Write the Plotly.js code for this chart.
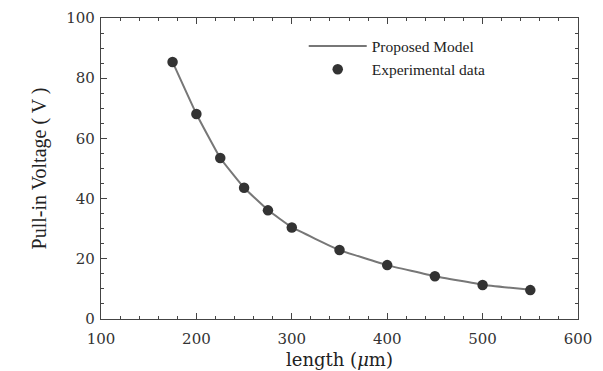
<!DOCTYPE html>
<html>
<head>
<meta charset="utf-8">
<script src="https://cdn.plot.ly/plotly-3.0.1.min.js"></script>
<style>html,body{margin:0;padding:0;background:#fff}#chart{width:603px;height:371px}</style>
</head>
<body>
<div id="chart"></div>
<script>
const lengthUm = [175, 200, 225, 250, 275, 300, 350, 400, 450, 500, 550];
const modelVoltage = [85.4, 68.1, 53.5, 43.6, 36.2, 30.5, 22.9, 17.9, 14.2, 11.4, 9.7];
const expVoltage = [85.4, 68.1, 53.5, 43.6, 36.1, 30.4, 22.9, 17.9, 14.2, 11.3, 9.6];
const xTicks = [100, 200, 300, 400, 500, 600];
const yTicks = [0, 20, 40, 60, 80, 100];

const serif = "Times New Roman, Liberation Serif, serif";
const wideSerif = "DejaVu Serif, serif";
const tickFont = {family: wideSerif, size: 15, color: '#333'};
const axisCommon = {
  showgrid: false, zeroline: false, showline: true, linecolor: '#444', linewidth: 1.2,
  mirror: 'ticks', ticks: 'inside', ticklen: 6, tickcolor: '#444', tickwidth: 1,
  tickfont: tickFont
};

const data = [
  {x: lengthUm, y: modelVoltage, type: 'scatter', mode: 'lines', name: 'Proposed Model',
   line: {color: '#777', width: 2, shape: 'spline', smoothing: 0.3}},
  {x: lengthUm, y: expVoltage, type: 'scatter', mode: 'markers', name: 'Experimental data',
   marker: {color: '#333', size: 10.5}}
];

const layout = {
  width: 603, height: 371,
  margin: {l: 101, r: 25, t: 18, b: 52},
  paper_bgcolor: '#fff', plot_bgcolor: '#fff',
  showlegend: true,
  legend: {x: 0.425, y: 0.962, xanchor: 'left', yanchor: 'top', bgcolor: 'rgba(0,0,0,0)',
    font: {family: serif, size: 15.5, color: '#222'}, tracegroupgap: 0, itemwidth: 58},
  xaxis: Object.assign({}, axisCommon, {
    range: [100, 600], tickvals: xTicks, ticktext: xTicks.map(String),
    ticklabelstandoff: 6,
    minor: {dtick: 20, ticks: 'inside', ticklen: 3, tickcolor: '#444'},
    title: {text: 'length (<i>μ</i>m)', font: {family: wideSerif, size: 18, color: '#222'}, standoff: 6}
  }),
  yaxis: Object.assign({}, axisCommon, {
    range: [0, 100], tickvals: yTicks, ticktext: yTicks.map(String),
    ticklabelstandoff: 2,
    minor: {dtick: 5, ticks: 'inside', ticklen: 3, tickcolor: '#444'},
    title: {text: 'Pull-in Voltage ( V )', font: {family: serif, size: 20, color: '#222'}, standoff: 14}
  })
};

Plotly.newPlot('chart', data, layout, {displayModeBar: false, staticPlot: true});
</script>
</body>
</html>
